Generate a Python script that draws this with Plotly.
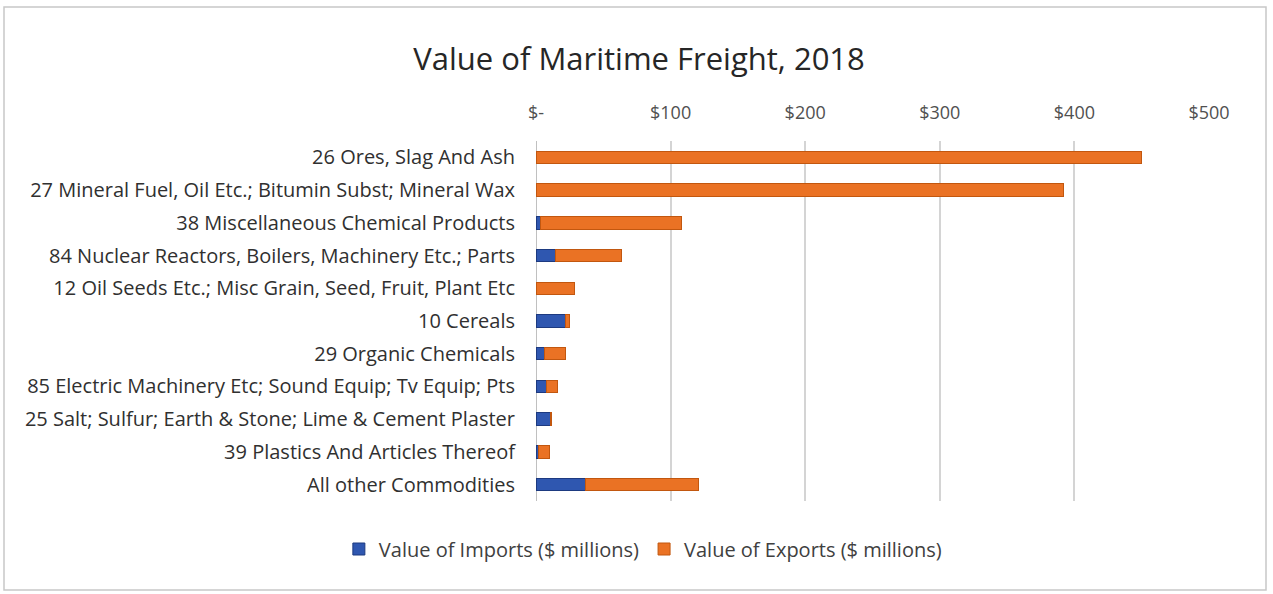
import plotly.graph_objects as go

# Commodity groups, top to bottom
commodities = [
    "26 Ores, Slag And Ash",
    "27 Mineral Fuel, Oil Etc.; Bitumin Subst; Mineral Wax",
    "38 Miscellaneous Chemical Products",
    "84 Nuclear Reactors, Boilers, Machinery Etc.; Parts",
    "12 Oil Seeds Etc.; Misc Grain, Seed, Fruit, Plant Etc",
    "10 Cereals",
    "29 Organic Chemicals",
    "85 Electric Machinery Etc; Sound Equip; Tv Equip; Pts",
    "25 Salt; Sulfur; Earth & Stone; Lime & Cement Plaster",
    "39 Plastics And Articles Thereof",
    "All other Commodities",
]
imports_musd = [0.0, 0.0, 3.0, 14.5, 0.5, 22.0, 6.3, 7.8, 10.8, 2.0, 36.8]
exports_musd = [449.6, 391.7, 105.0, 48.8, 28.3, 3.0, 15.6, 7.9, 0.5, 8.3, 84.2]

tick_values = [0, 100, 200, 300, 400, 500]
tick_labels = ["$-", "$100", "$200", "$300", "$400", "$500"]

FONT = "'Open Sans', Lato, sans-serif"

fig = go.Figure()
fig.add_trace(go.Bar(
    y=commodities, x=imports_musd, orientation="h",
    name="Value of Imports ($ millions)",
    marker=dict(color="#2f57b0", line=dict(color="#1d3a80", width=1)),
))
fig.add_trace(go.Bar(
    y=commodities, x=exports_musd, orientation="h",
    name="Value of Exports ($ millions)",
    marker=dict(color="#ea7224", line=dict(color="#c2570f", width=1)),
))

W, H = 1273, 594
L, R, T, B = 536, 64, 141, 93
pw, ph = W - L - R, H - T - B

def px_to_paper_x(px):
    return (px - L) / pw

def px_to_paper_y(py):
    return (H - B - py) / ph

fig.update_layout(
    width=W, height=H,
    barmode="stack",
    bargap=0.62,
    margin=dict(l=L, r=R, t=T, b=B),
    paper_bgcolor="white",
    plot_bgcolor="white",
    font=dict(family=FONT, size=18, color="#404040"),
    title=dict(
        text="Value of Maritime Freight, 2018",
        font=dict(family=FONT, size=31, color="#262626"),
        x=0.502, xref="container", xanchor="center",
        y=1 - 59 / H, yref="container", yanchor="middle",
    ),
    xaxis=dict(
        side="top", range=[0, 500],
        tickvals=tick_values, ticktext=tick_labels,
        showgrid=True, gridcolor="#d4d4d4", gridwidth=2,
        zeroline=False, showline=False, ticks="",
        tickfont=dict(size=18, color="#505050"),
        ticklabelstandoff=17,
    ),
    yaxis=dict(
        autorange="reversed", showgrid=False, zeroline=False,
        showline=False, ticks="",
        tickfont=dict(size=20, color="#303030"),
        ticklabelstandoff=20,
    ),
    legend=dict(
        orientation="h",
        x=0.505, xref="container", xanchor="center",
        y=1 - 549 / H, yref="container", yanchor="middle",
        font=dict(size=20, color="#404040"),
        itemwidth=30, traceorder="normal",
    ),
    showlegend=True,
    shapes=[
        dict(
            type="rect", xref="paper", yref="paper",
            x0=px_to_paper_x(4), x1=px_to_paper_x(1266),
            y0=px_to_paper_y(590), y1=px_to_paper_y(7),
            line=dict(color="#c8c8c8", width=1.5),
            fillcolor="rgba(0,0,0,0)", layer="below",
        ),
        dict(
            type="line", xref="x", yref="paper",
            x0=0, x1=0, y0=0, y1=1,
            line=dict(color="#c0c0c0", width=2),
            layer="below",
        ),
    ],
)

fig.write_html("out.html")
